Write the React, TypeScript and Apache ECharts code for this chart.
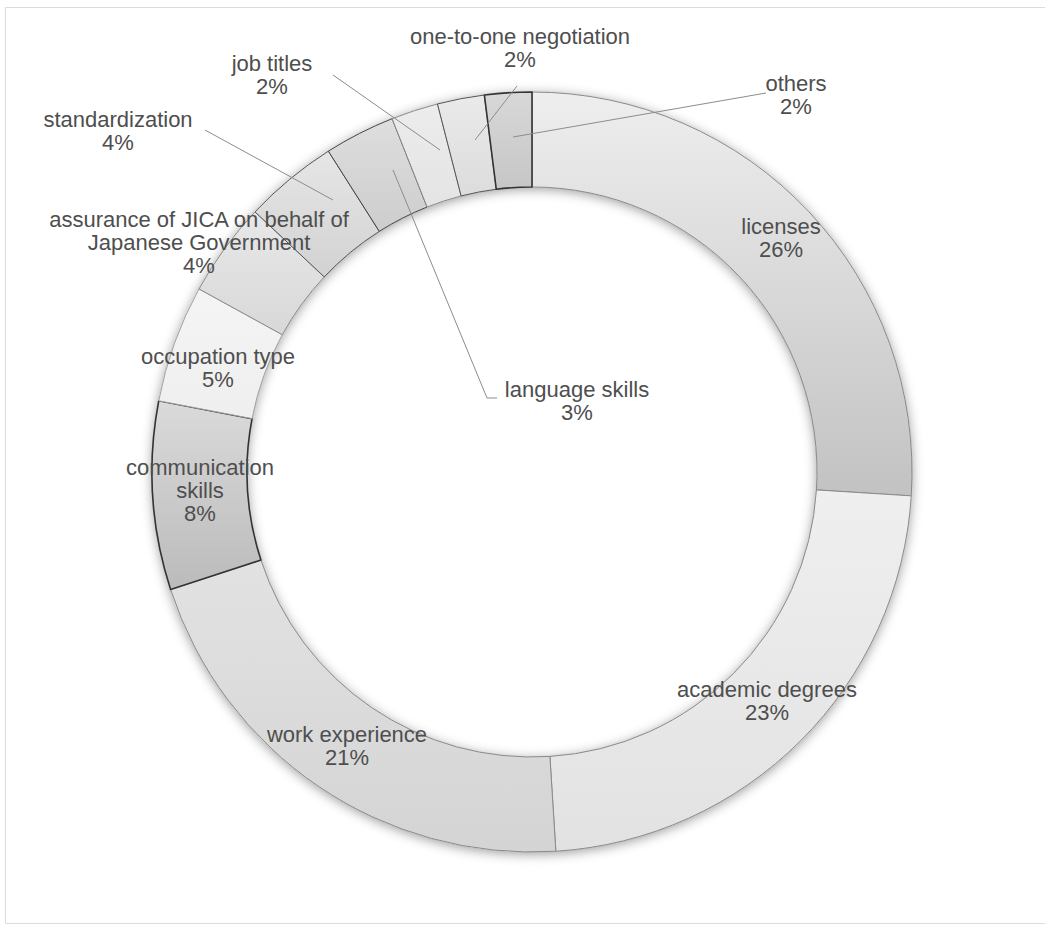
import React, { useEffect, useRef } from 'react';
import * as echarts from 'echarts';

// ---- data ----
const categories = [
  'licenses',
  'academic degrees',
  'work experience',
  'communication\nskills',
  'occupation type',
  'assurance of JICA on behalf of\nJapanese Government',
  'standardization',
  'language skills',
  'job titles',
  'one-to-one negotiation',
  'others',
];
const shares = [26, 23, 21, 8, 5, 4, 4, 3, 2, 2, 2];

// ---- styles ----
const topColors = ['#eeeeee', '#efefef', '#e2e2e2', '#dadada', '#f4f4f4', '#e8e8e8', '#e6e6e6', '#dedede', '#ececec', '#eaeaea', '#d8d8d8'];
const bottomColors = ['#c2c2c2', '#e2e2e2', '#d4d4d4', '#bbbbbb', '#efefef', '#d8d8d8', '#d2d2d2', '#cdcdcd', '#e4e4e4', '#dcdcdc', '#c6c6c6'];
const borderColors = ['#8a8a8a', '#8a8a8a', '#8a8a8a', '#333333', '#a0a0a0', '#8a8a8a', '#555555', '#444444', '#8a8a8a', '#555555', '#333333'];
const outsideLabel = [false, false, false, false, false, false, true, true, true, true, true];
const labelPos: number[][] = [
  [781, 238], [767, 701], [347, 746], [200, 490], [218, 368], [199, 242],
  [118, 131], [577, 401], [272, 75], [520, 48], [796, 95],
];
const leaderLines: (number[][] | null)[] = [
  null, null, null, null, null, null,
  [[333, 200], [205, 130]],
  [[393, 170], [487, 398], [497, 398]],
  [[440, 150], [333, 75]],
  [[475, 140], [517, 86]],
  [[513, 137], [766, 93]],
];

export default function App() {
  const ref = useRef<HTMLDivElement>(null);
  useEffect(() => {
    document.body.style.margin = '0';
    const chart = echarts.init(ref.current!, undefined, { renderer: 'svg' });
    const ringData = categories.map((name, i) => ({
      name,
      value: shares[i],
      itemStyle: {
        color: {
          type: 'linear', x: 0, y: 0, x2: 0, y2: 1,
          colorStops: [
            { offset: 0, color: topColors[i] },
            { offset: 1, color: bottomColors[i] },
          ],
        },
        borderColor: borderColors[i],
        borderWidth: borderColors[i] === '#333333' ? 1.6 : 1,
      },
    }));
    const labelData = categories.map((name, i) => ({
      name,
      value: shares[i],
      label: { position: outsideLabel[i] ? 'outside' : 'inside' },
      labelLine: { show: outsideLabel[i] },
    }));
    chart.setOption({
      animation: false,
      backgroundColor: '#ffffff',
      graphic: [
        {
          type: 'rect',
          z: 0,
          silent: true,
          shape: { x: 5.5, y: 7.5, width: 1045, height: 916 },
          style: { fill: 'none', stroke: '#dcdcdc', lineWidth: 1 },
        },
        {
          type: 'ring',
          z: 0,
          silent: true,
          shape: { cx: 532, cy: 472, r: 380, r0: 285 },
          style: { fill: '#dddddd', shadowBlur: 12, shadowColor: 'rgba(0,0,0,0.4)', shadowOffsetY: 2 },
        },
      ],
      series: [
        {
          type: 'pie',
          z: 2,
          center: [532, 472],
          radius: [285, 380],
          startAngle: 90,
          clockwise: true,
          silent: true,
          label: { show: false },
          labelLine: { show: false },
          emphasis: { disabled: true },
          data: ringData,
        },
        {
          type: 'pie',
          z: 3,
          center: [532, 472],
          radius: [285, 380],
          startAngle: 90,
          clockwise: true,
          silent: true,
          avoidLabelOverlap: false,
          itemStyle: { color: 'rgba(0,0,0,0)', borderWidth: 0 },
          data: labelData,
          label: {
            show: true,
            formatter: '{b}\n{c}%',
            color: '#4e4e4e',
            fontSize: 22,
            lineHeight: 23,
            fontFamily: '"Liberation Sans", Arial, Helvetica, sans-serif',
            align: 'center',
          },
          labelLine: {
            lineStyle: { color: '#8c8c8c', width: 1 },
          },
          emphasis: { disabled: true },
          labelLayout: (params: any) => {
            const i = params.dataIndex;
            const p = labelPos[i];
            const res: any = { x: p[0], y: p[1], align: 'center', verticalAlign: 'middle' };
            if (leaderLines[i]) res.labelLinePoints = leaderLines[i];
            return res;
          },
        },
      ],
    });
    return () => chart.dispose();
  }, []);
  return <div ref={ref} style={{ width: 1045, height: 926 }} />;
}
